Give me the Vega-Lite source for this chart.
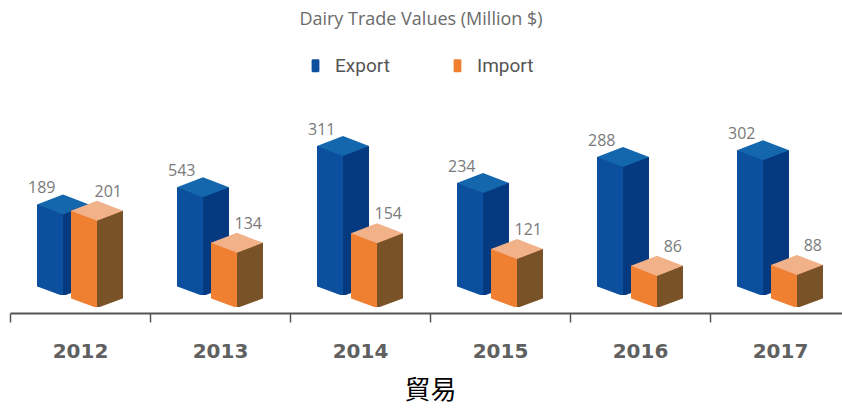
{
  "$schema": "https://vega.github.io/schema/vega-lite/v6.json",
  "width": 832,
  "height": 223,
  "autosize": {"type": "none"},
  "padding": {"left": 10, "top": 90, "right": 0, "bottom": 95},
  "background": "white",
  "title": {"text": "Dairy Trade Values (Million $)", "font": "Open Sans", "fontSize": 18, "fontWeight": "normal", "color": "#6b6b6b", "anchor": "middle", "frame": "group", "offset": 27, "dx": -5},
  "data": {"values": [
    {"year": "2012", "series": "Export", "value": 189, "label": "189"},
    {"year": "2012", "series": "Import", "value": 201, "label": "201"},
    {"year": "2013", "series": "Export", "value": 225, "label": "543"},
    {"year": "2013", "series": "Import", "value": 134, "label": "134"},
    {"year": "2014", "series": "Export", "value": 311, "label": "311"},
    {"year": "2014", "series": "Import", "value": 154, "label": "154"},
    {"year": "2015", "series": "Export", "value": 234, "label": "234"},
    {"year": "2015", "series": "Import", "value": 121, "label": "121"},
    {"year": "2016", "series": "Export", "value": 288, "label": "288"},
    {"year": "2016", "series": "Import", "value": 86, "label": "86"},
    {"year": "2017", "series": "Export", "value": 302, "label": "302"},
    {"year": "2017", "series": "Import", "value": 88, "label": "88"}
  ]},
  "encoding": {
    "x": {
      "field": "year", "type": "ordinal",
      "scale": {"range": [0, 840], "paddingInner": 0, "paddingOuter": 0},
      "axis": {
        "title": "貿易", "titleFont": "Noto Sans CJK TC", "titleFontSize": 26, "titleFontWeight": "normal", "titleColor": "#000000",
        "titleX": 420, "titleY": 77, "titleBaseline": "middle", "titleAlign": "center",
        "labelAngle": 0, "labelFont": "DejaVu Sans", "labelFontWeight": "bold", "labelFontSize": 20, "labelColor": "#606060", "labelPadding": 19,
        "tickBand": "extent", "tickSize": 9, "tickColor": "#555555", "tickWidth": 1.5,
        "domainColor": "#555555", "domainWidth": 2, "grid": false
      }
    },
    "y": {"field": "value", "type": "quantitative", "scale": {"domain": [19, 484], "zero": false}, "axis": null}
  },
  "layer": [
    {
      "transform": [{"filter": "datum.series === 'Export'"}],
      "mark": {"type": "bar", "width": 26, "xOffset": -30, "yOffset": -27, "y2Offset": -17},
      "encoding": {
        "color": {
          "field": "series", "type": "nominal",
          "scale": {"domain": ["Export", "Import"], "range": ["#0b4f9e", "#ef7f31"]},
          "legend": {
            "orient": "none", "legendX": 296, "legendY": -34, "direction": "horizontal", "title": null,
            "symbolType": "M-0.6,-0.8Q-0.6,-1,-0.4,-1L0.4,-1Q0.6,-1,0.6,-0.8L0.6,0.8Q0.6,1,0.4,1L-0.4,1Q-0.6,1,-0.6,0.8Z",
            "symbolSize": 169, "symbolStrokeWidth": 0, "symbolOpacity": 1,
            "labelFont": "Roboto", "labelFontSize": 19, "labelColor": "#555555", "labelOffset": 10,
            "columnPadding": 58, "padding": 0
          }
        }
      }
    },
    {
      "transform": [{"filter": "datum.series === 'Export'"}],
      "mark": {"type": "bar", "width": 26, "xOffset": -4, "yOffset": -27, "y2Offset": -17, "color": "#053a80"}
    },
    {
      "transform": [{"filter": "datum.series === 'Export'"}],
      "mark": {"type": "point", "shape": "M-1,0L0,-0.385L1,0L0,0.385Z", "size": 2704, "filled": true, "opacity": 1, "strokeWidth": 0, "color": "#1567ad", "xOffset": -17, "yOffset": -27}
    },
    {
      "transform": [{"filter": "datum.series === 'Export'"}],
      "mark": {"type": "point", "shape": "M-1.04,-0.192L0,0.192L1.04,-0.192L1.04,0.25L-1.04,0.25Z", "size": 2704, "filled": true, "opacity": 1, "strokeWidth": 0, "color": "#ffffff", "xOffset": -17, "yOffset": -22},
      "encoding": {"y": {"datum": 19, "type": "quantitative"}}
    },
    {
      "transform": [{"filter": "datum.series === 'Import'"}],
      "mark": {"type": "bar", "width": 26, "xOffset": 4, "yOffset": -15, "y2Offset": -5},
      "encoding": {
        "color": {"field": "series", "type": "nominal"}
      }
    },
    {
      "transform": [{"filter": "datum.series === 'Import'"}],
      "mark": {"type": "bar", "width": 26, "xOffset": 30, "yOffset": -15, "y2Offset": -5, "color": "#7a5228"}
    },
    {
      "transform": [{"filter": "datum.series === 'Import'"}],
      "mark": {"type": "point", "shape": "M-1,0L0,-0.385L1,0L0,0.385Z", "size": 2704, "filled": true, "opacity": 1, "strokeWidth": 0, "color": "#f1b189", "xOffset": 17, "yOffset": -15}
    },
    {
      "transform": [{"filter": "datum.series === 'Import'"}],
      "mark": {"type": "point", "shape": "M-1.04,-0.192L0,0.192L1.04,-0.192L1.04,0.25L-1.04,0.25Z", "size": 2704, "filled": true, "opacity": 1, "strokeWidth": 0, "color": "#ffffff", "xOffset": 17, "yOffset": -10},
      "encoding": {"y": {"datum": 19, "type": "quantitative"}}
    },
    {
      "transform": [{"filter": "datum.series === 'Export'"}],
      "mark": {"type": "text", "align": "left", "baseline": "alphabetic", "xOffset": -52, "yOffset": -38, "font": "Open Sans", "fontSize": 16, "color": "#7a7a7a"},
      "encoding": {"text": {"field": "label"}}
    },
    {
      "transform": [{"filter": "datum.series === 'Import'"}],
      "mark": {"type": "text", "align": "right", "baseline": "alphabetic", "xOffset": 42, "yOffset": -29, "font": "Open Sans", "fontSize": 16, "color": "#7a7a7a"},
      "encoding": {"text": {"field": "label"}}
    }
  ],
  "config": {"view": {"stroke": null}}
}
